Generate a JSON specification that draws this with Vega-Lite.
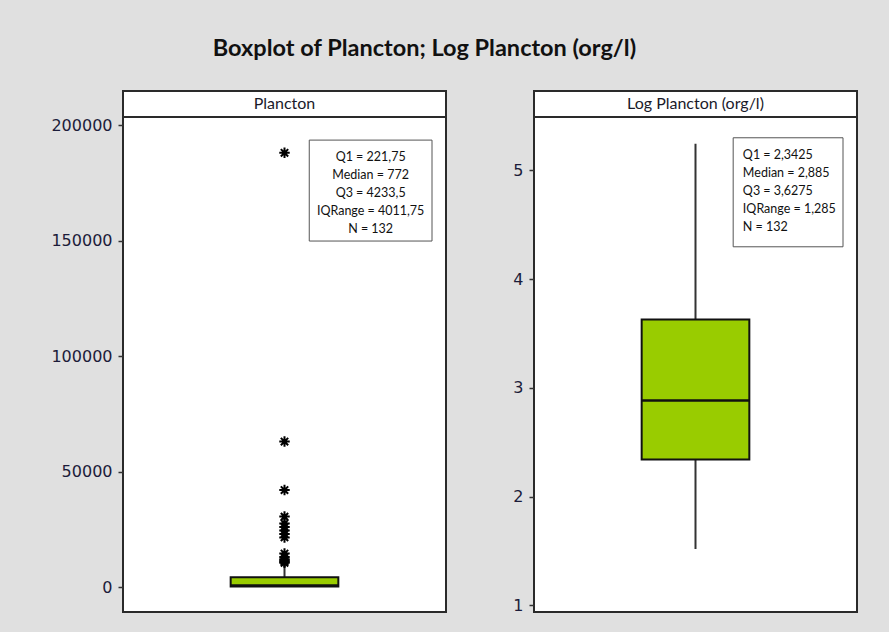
{
  "$schema": "https://vega.github.io/schema/vega-lite/v6.json",
  "background": "#e0e0e0",
  "padding": {"left": 49, "top": 36, "right": 32, "bottom": 21},
  "title": {
    "text": "Boxplot of Plancton; Log Plancton (org/l)",
    "font": "Lato",
    "fontSize": 23.5,
    "fontWeight": "bold",
    "color": "#111111",
    "anchor": "middle",
    "offset": 29,
    "dx": -30
  },
  "datasets": {
    "stats": [
      {"panel": "Plancton", "q1": 221.75, "median": 772, "q3": 4233.5, "lower": 33, "upper": 9200, "text": "Q1 = 221,75\nMedian = 772\nQ3 = 4233,5\nIQRange = 4011,75\nN = 132"},
      {"panel": "Log Plancton (org/l)", "q1": 2.3425, "median": 2.885, "q3": 3.6275, "lower": 1.52, "upper": 5.245, "text": "Q1 = 2,3425\nMedian = 2,885\nQ3 = 3,6275\nIQRange = 1,285\nN = 132"}
    ],
    "outliers": [
      {"panel": "Plancton", "value": 188000},
      {"panel": "Plancton", "value": 63000},
      {"panel": "Plancton", "value": 42000},
      {"panel": "Plancton", "value": 30500},
      {"panel": "Plancton", "value": 27500},
      {"panel": "Plancton", "value": 26000},
      {"panel": "Plancton", "value": 24500},
      {"panel": "Plancton", "value": 23000},
      {"panel": "Plancton", "value": 21500},
      {"panel": "Plancton", "value": 14500},
      {"panel": "Plancton", "value": 13000},
      {"panel": "Plancton", "value": 12000},
      {"panel": "Plancton", "value": 11500},
      {"panel": "Plancton", "value": 11000},
      {"panel": "Plancton", "value": 10500}
    ],
    "strips": [
      {"panel": "Plancton"},
      {"panel": "Log Plancton (org/l)"}
    ]
  },
  "columns": 2,
  "spacing": {"row": 0, "column": 88},
  "bounds": "flush",
  "concat": [
    {
      "width": 323, "height": 26,
      "view": {"fill": "white", "stroke": "#2a2a2a", "strokeWidth": 2},
      "data": {"name": "strips"},
      "transform": [{"filter": "datum.panel === 'Plancton'"}],
      "layer": [
        {"mark": {"type": "rect", "fill": "white", "stroke": "#2a2a2a", "strokeWidth": 2}, "encoding": {}},
        {"mark": {"type": "text", "font": "Lato", "fontSize": 16, "color": "#1a1a2a", "baseline": "middle", "align": "center"},
         "encoding": {"text": {"field": "panel"}}}
      ]
    },
    {
      "width": 323, "height": 26,
      "view": {"fill": "white", "stroke": "#2a2a2a", "strokeWidth": 2},
      "data": {"name": "strips"},
      "transform": [{"filter": "datum.panel !== 'Plancton'"}],
      "layer": [
        {"mark": {"type": "rect", "fill": "white", "stroke": "#2a2a2a", "strokeWidth": 2}, "encoding": {}},
        {"mark": {"type": "text", "font": "Lato", "fontSize": 16, "color": "#1a1a2a", "baseline": "middle", "align": "center"},
         "encoding": {"text": {"field": "panel"}}}
      ]
    },
    {
      "width": 323, "height": 495,
      "layer": [
        {
          "data": {"name": "stats"},
          "transform": [{"filter": "datum.panel === 'Plancton'"}],
          "mark": {"type": "rule", "color": "#333333", "strokeWidth": 2},
          "encoding": {
            "x": {"datum": 1.5, "type": "quantitative", "scale": {"domain": [0, 3], "nice": false}, "axis": null},
            "y": {"field": "lower", "type": "quantitative", "scale": {"domain": [-10800, 203500], "nice": false, "zero": false}, "title": null, "axis": {"values": [0, 50000, 100000, 150000, 200000], "format": "d", "title": null}},
            "y2": {"field": "upper"}
          }
        },
        {
          "data": {"name": "stats"},
          "transform": [{"filter": "datum.panel === 'Plancton'"}],
          "mark": {"type": "rect", "fill": "#99cc00", "stroke": "#111111", "strokeWidth": 2},
          "encoding": {
            "x": {"datum": 1, "type": "quantitative", "axis": null},
            "x2": {"datum": 2},
            "y": {"field": "q1", "type": "quantitative", "title": null},
            "y2": {"field": "q3"}
          }
        },
        {
          "data": {"name": "stats"},
          "transform": [{"filter": "datum.panel === 'Plancton'"}],
          "mark": {"type": "rule", "color": "#111111", "strokeWidth": 2},
          "encoding": {
            "x": {"datum": 1, "type": "quantitative", "axis": null},
            "x2": {"datum": 2},
            "y": {"field": "median", "type": "quantitative", "title": null}
          }
        },
        {
          "data": {"name": "outliers"},
          "mark": {"type": "point", "shape": "M-1,0L1,0M0,-1L0,1M-0.7,-0.7L0.7,0.7M-0.7,0.7L0.7,-0.7", "filled": false, "stroke": "#000000", "strokeWidth": 2, "size": 110, "opacity": 1},
          "encoding": {
            "x": {"datum": 1.5, "type": "quantitative", "axis": null},
            "y": {"field": "value", "type": "quantitative", "title": null}
          }
        },
        {
          "data": {"name": "stats"},
          "transform": [{"filter": "datum.panel === 'Plancton'"}],
          "mark": {"type": "rect", "fill": "white", "stroke": "#555555", "strokeWidth": 1},
          "encoding": {
            "x": {"datum": 1.73, "type": "quantitative", "axis": null},
            "x2": {"datum": 2.87},
            "y": {"datum": 193500, "type": "quantitative", "title": null},
            "y2": {"datum": 149800}
          }
        },
        {
          "data": {"name": "stats"},
          "transform": [{"filter": "datum.panel === 'Plancton'"}],
          "mark": {"type": "text", "font": "Lato", "fontSize": 12.5, "color": "#111111", "align": "center", "baseline": "middle", "lineBreak": "\n", "lineHeight": 18},
          "encoding": {
            "x": {"datum": 2.3, "type": "quantitative", "axis": null},
            "y": {"datum": 186300, "type": "quantitative", "title": null},
            "text": {"field": "text"}
          }
        }
      ]
    },
    {
      "width": 323, "height": 495,
      "layer": [
        {
          "data": {"name": "stats"},
          "transform": [{"filter": "datum.panel !== 'Plancton'"}],
          "mark": {"type": "rule", "color": "#333333", "strokeWidth": 2},
          "encoding": {
            "x": {"datum": 1.5, "type": "quantitative", "scale": {"domain": [0, 3], "nice": false}, "axis": null},
            "y": {"field": "lower", "type": "quantitative", "scale": {"domain": [0.94, 5.49], "nice": false, "zero": false}, "title": null, "axis": {"values": [1, 2, 3, 4, 5], "format": "d", "title": null}},
            "y2": {"field": "upper"}
          }
        },
        {
          "data": {"name": "stats"},
          "transform": [{"filter": "datum.panel !== 'Plancton'"}],
          "mark": {"type": "rect", "fill": "#99cc00", "stroke": "#111111", "strokeWidth": 2},
          "encoding": {
            "x": {"datum": 1, "type": "quantitative", "axis": null},
            "x2": {"datum": 2},
            "y": {"field": "q1", "type": "quantitative", "title": null},
            "y2": {"field": "q3"}
          }
        },
        {
          "data": {"name": "stats"},
          "transform": [{"filter": "datum.panel !== 'Plancton'"}],
          "mark": {"type": "rule", "color": "#111111", "strokeWidth": 2.5},
          "encoding": {
            "x": {"datum": 1, "type": "quantitative", "axis": null},
            "x2": {"datum": 2},
            "y": {"field": "median", "type": "quantitative", "title": null}
          }
        },
        {
          "data": {"name": "stats"},
          "transform": [{"filter": "datum.panel !== 'Plancton'"}],
          "mark": {"type": "rect", "fill": "white", "stroke": "#555555", "strokeWidth": 1},
          "encoding": {
            "x": {"datum": 1.85, "type": "quantitative", "axis": null},
            "x2": {"datum": 2.87},
            "y": {"datum": 5.299, "type": "quantitative", "title": null},
            "y2": {"datum": 4.297}
          }
        },
        {
          "data": {"name": "stats"},
          "transform": [{"filter": "datum.panel !== 'Plancton'"}],
          "mark": {"type": "text", "font": "Lato", "fontSize": 12.5, "color": "#111111", "align": "left", "baseline": "middle", "lineBreak": "\n", "lineHeight": 18},
          "encoding": {
            "x": {"datum": 1.94, "type": "quantitative", "axis": null},
            "y": {"datum": 5.143, "type": "quantitative", "title": null},
            "text": {"field": "text"}
          }
        }
      ]
    }
  ],
  "config": {
    "view": {"fill": "white", "stroke": "#2a2a2a", "strokeWidth": 2},
    "axisY": {
      "domain": false,
      "grid": false,
      "ticks": true,
      "tickSize": 5,
      "tickColor": "#333333",
      "tickWidth": 1.5,
      "labelPadding": 6,
      "labelFont": "DejaVu Sans",
      "labelFontSize": 16,
      "labelColor": "#1c1c3a"
    }
  }
}
